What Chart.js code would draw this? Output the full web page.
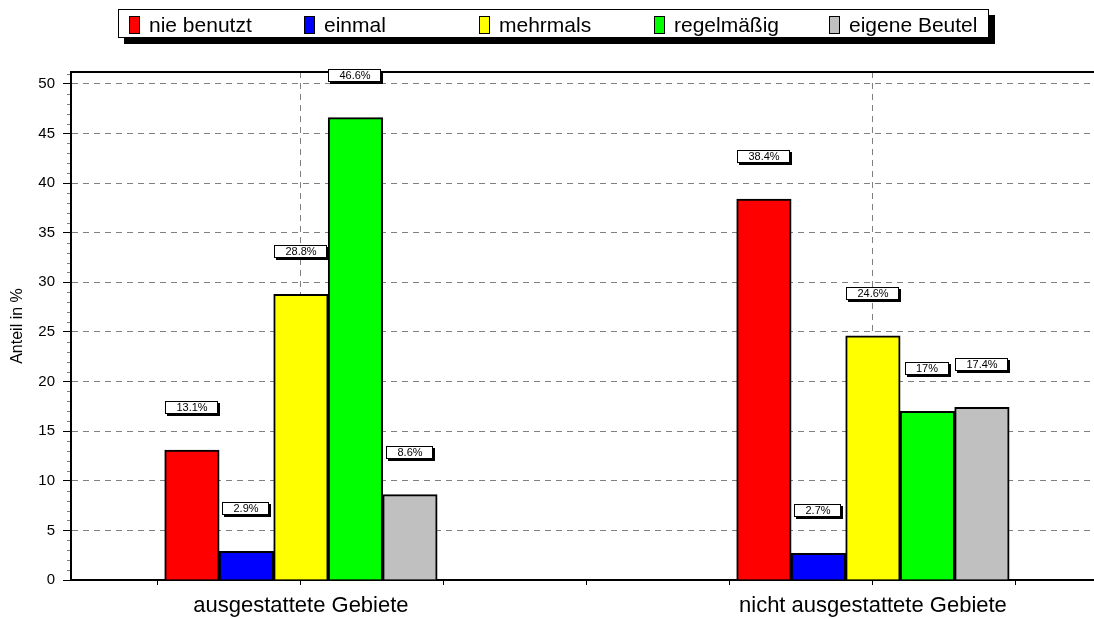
<!DOCTYPE html>
<html><head><meta charset="utf-8">
<script src="https://cdn.jsdelivr.net/npm/chart.js@4/dist/chart.umd.min.js"></script>
<style>html,body{margin:0;padding:0;background:#fff;}canvas{display:block}</style>
</head><body>
<canvas id="c" width="1094" height="619"></canvas>
<script>
// ---- data ----
const categories = ['ausgestattete Gebiete', 'nicht ausgestattete Gebiete'];
const seriesNames = ['nie benutzt', 'einmal', 'mehrmals', 'regelmäßig', 'eigene Beutel'];
const nieBenutzt   = [13.1, 38.4];
const einmal       = [2.9, 2.7];
const mehrmals     = [28.8, 24.6];
const regelmaessig = [46.6, 17];
const eigeneBeutel = [8.6, 17.4];
const seriesColors = ['#FF0000', '#0000FF', '#FFFF00', '#00FF00', '#C0C0C0'];
const yTicks = [0, 5, 10, 15, 20, 25, 30, 35, 40, 45, 50];
const xTickPositions = [-0.25, 0, 0.25, 0.5, 0.75, 1, 1.25];
const yTitle = 'Anteil in %';

const seriesValues = [nieBenutzt, einmal, mehrmals, regelmaessig, eigeneBeutel];
const FONT = '"Liberation Sans", Arial, sans-serif';

const datasets = seriesValues.map((vals, s) => ({
  label: seriesNames[s],
  data: vals.map((v, i) => ({ x: i, y: v })),
  backgroundColor: seriesColors[s],
  borderColor: '#000',
  borderWidth: 2,
  borderSkipped: 'start',
  barThickness: 54.5
}));

const decorPlugin = {
  id: 'decor',
  afterDraw(chart) {
    const ctx = chart.ctx;
    const ca = chart.chartArea;
    const ys = chart.scales.y;
    ctx.save();
    // top frame line
    ctx.strokeStyle = '#000';
    ctx.lineWidth = 2;
    ctx.beginPath();
    ctx.moveTo(ca.left - 1, ca.top);
    ctx.lineTo(ca.right, ca.top);
    ctx.stroke();
    // minor ticks on y axis
    ctx.strokeStyle = '#808080';
    ctx.lineWidth = 1;
    for (let v = 1; v < ys.max; v++) {
      if (v % 5 === 0) continue;
      const py = Math.round(ys.getPixelForValue(v)) + 0.5;
      ctx.beginPath();
      ctx.moveTo(ca.left - 4, py);
      ctx.lineTo(ca.left - 1, py);
      ctx.stroke();
    }
    // value labels
    ctx.font = '11px ' + FONT;
    ctx.textAlign = 'center';
    ctx.textBaseline = 'middle';
    chart.data.datasets.forEach((ds, di) => {
      const meta = chart.getDatasetMeta(di);
      meta.data.forEach((bar, i) => {
        const v = seriesValues[di][i];
        const txt = v + '%';
        const tw = ctx.measureText(txt).width;
        const w = Math.round(tw + 22), h = 13;
        const cx = Math.round(bar.x), cy = Math.round(bar.y - 43);
        const x0 = cx - Math.round(w / 2), y0 = cy - 6;
        ctx.fillStyle = '#000';
        ctx.fillRect(x0 + 2, y0 + 2, w, h);
        ctx.fillStyle = '#fff';
        ctx.fillRect(x0, y0, w, h);
        ctx.strokeStyle = '#000';
        ctx.lineWidth = 1;
        ctx.strokeRect(x0 + 0.5, y0 + 0.5, w - 1, h - 1);
        ctx.fillStyle = '#000';
        ctx.fillText(txt, cx, cy + 1);
      });
    });
    // legend box
    const L = { left: 118, top: 9, width: 871, height: 29, shadow: 6, first: 129, slot: 175 };
    ctx.fillStyle = '#000';
    ctx.fillRect(L.left + L.shadow, L.top + L.shadow, L.width, L.height);
    ctx.fillStyle = '#fff';
    ctx.fillRect(L.left, L.top, L.width, L.height);
    ctx.strokeStyle = '#000';
    ctx.lineWidth = 1;
    ctx.strokeRect(L.left + 0.5, L.top + 0.5, L.width - 1, L.height - 1);
    ctx.font = '21px ' + FONT;
    ctx.textAlign = 'left';
    ctx.textBaseline = 'alphabetic';
    chart.data.datasets.forEach((ds, i) => {
      const x = L.first + i * L.slot;
      ctx.fillStyle = ds.backgroundColor;
      ctx.fillRect(x, 16, 11, 18);
      ctx.strokeStyle = '#000';
      ctx.strokeRect(x + 0.5, 16.5, 10, 17);
      ctx.fillStyle = '#000';
      ctx.fillText(ds.label, x + 20, 32);
    });
    ctx.restore();
  }
};

new Chart(document.getElementById('c'), {
  type: 'bar',
  data: { datasets },
  options: {
    responsive: false,
    devicePixelRatio: 1,
    animation: false,
    layout: { padding: { top: 72, left: 0, right: 0, bottom: 0 } },
    plugins: { legend: { display: false }, tooltip: { enabled: false } },
    scales: {
      x: {
        type: 'linear',
        min: -0.402,
        max: 1.3865,
        offset: false,
        afterBuildTicks(axis) { axis.ticks = xTickPositions.map(v => ({ value: v })); },
        afterFit(axis) { axis.height = 39; },
        ticks: {
          autoSkip: false, maxRotation: 0, minRotation: 0, padding: 8,
          color: '#000', font: { family: FONT, size: 22 },
          callback: (v) => (Number.isInteger(v) && categories[v] !== undefined) ? categories[v] : ''
        },
        grid: {
          offset: false,
          color: (c) => (c.tick && Number.isInteger(c.tick.value)) ? '#808080' : 'rgba(0,0,0,0)',
          lineWidth: 1, tickColor: '#000', tickLength: 5, tickWidth: 1
        },
        border: { display: true, color: '#000', width: 2, dash: [6, 5] }
      },
      y: {
        min: 0,
        max: 51.2,
        afterBuildTicks(axis) { axis.ticks = yTicks.map(v => ({ value: v })); },
        afterFit(axis) { axis.width = 71; },
        ticks: { color: '#000', padding: 8, font: { family: FONT, size: 15 } },
        title: { display: true, text: yTitle, color: '#000', font: { family: FONT, size: 16 }, padding: { top: 8, bottom: 0 } },
        grid: {
          color: (c) => (c.tick && c.tick.value === 0) ? 'rgba(0,0,0,0)' : '#808080',
          lineWidth: 1, tickColor: '#000', tickLength: 8, tickWidth: 1
        },
        border: { display: true, color: '#000', width: 2, dash: [6, 5] }
      }
    }
  },
  plugins: [decorPlugin]
});
</script>
</body></html>
